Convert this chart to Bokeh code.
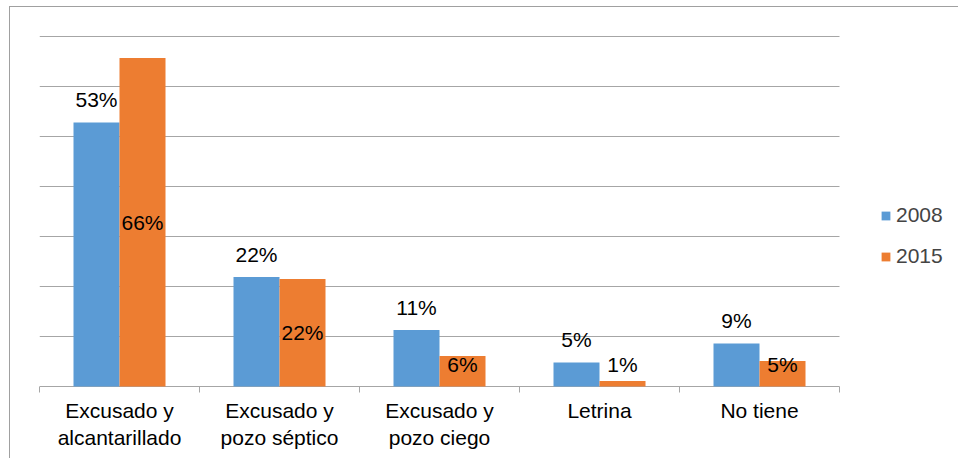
from bokeh.plotting import figure
from bokeh.models import (ColumnDataSource, FixedTicker, Legend, LegendItem, Range1d)
from bokeh.core.properties import value
from bokeh.embed import file_html
from bokeh.resources import INLINE

categories = ["Excusado y\nalcantarillado", "Excusado y\npozo séptico",
              "Excusado y\npozo ciego", "Letrina", "No tiene"]
series_names = ["2008", "2015"]
vals_2008 = [52.8, 21.9, 11.3, 4.8, 8.6]
vals_2015 = [65.7, 21.5, 6.1, 1.1, 5.1]
labels_2008 = ["53%", "22%", "11%", "5%", "9%"]
labels_2015 = ["66%", "22%", "6%", "1%", "5%"]
grid_ticks = [10, 20, 30, 40, 50, 60, 70]

BLUE = "#5B9BD5"
ORANGE = "#ED7D31"
GRAY = "#A6A6A6"
FONT = "Liberation Sans"
FS = "21px"

n = len(categories)
centers = [i + 0.5 for i in range(n)]
off = 0.14375
bw = 0.2875
px_per_unit = 5.0

src08 = ColumnDataSource(dict(x=[c - off for c in centers], top=vals_2008,
                              ly=[v + 23 / px_per_unit for v in vals_2008], lab=labels_2008))
src15 = ColumnDataSource(dict(x=[c + off for c in centers], top=vals_2015,
                              ly=[max(v / 2, 4.5) for v in vals_2015], lab=labels_2015))

p = figure(width=949, height=452, output_backend="svg", toolbar_location=None,
           x_range=Range1d(0, 5.75), y_range=Range1d(-0.2, 70.4),
           min_border_left=29, min_border_top=27, min_border_right=0, min_border_bottom=72,
           styles={"margin-left": "9px", "margin-top": "6px",
                   "border-left": "1px solid #A0A0A0", "border-top": "1px solid #A0A0A0"})
p.outline_line_color = None
p.background_fill_color = "white"
p.border_fill_color = "white"

p.yaxis.visible = False
p.ygrid.grid_line_color = None
p.xgrid.grid_line_color = None

# horizontal gridlines across the category area only
p.segment(x0=[0] * len(grid_ticks), x1=[n] * len(grid_ticks), y0=grid_ticks, y1=grid_ticks,
          line_color=GRAY, line_width=1)
# category axis baseline
p.segment(x0=[0], x1=[n], y0=[0], y1=[0], line_color=GRAY, line_width=1)

ax = p.xaxis[0]
ax.ticker = FixedTicker(ticks=centers, minor_ticks=list(range(n + 1)))
ax.major_label_overrides = {c: lab for c, lab in zip(centers, categories)}
ax.major_tick_line_color = None
ax.major_tick_out = 0
ax.major_tick_in = 0
ax.minor_tick_line_color = GRAY
ax.minor_tick_out = 5
ax.minor_tick_in = 1
ax.axis_line_color = None
ax.major_label_text_font = FONT
ax.major_label_text_font_size = FS
ax.major_label_text_color = "black"
ax.major_label_standoff = 6

r08 = p.vbar(x="x", top="top", width=bw, source=src08, fill_color=BLUE, line_color=None)
r15 = p.vbar(x="x", top="top", width=bw, source=src15, fill_color=ORANGE, line_color=None)

p.text(x="x", y="ly", text="lab", source=src08, text_font=value(FONT), text_font_size=FS,
       text_align="center", text_baseline="middle", text_color="black")
p.text(x="x", y="ly", text="lab", source=src15, text_font=value(FONT), text_font_size=FS,
       text_align="center", text_baseline="middle", text_color="black")

legend = Legend(items=[LegendItem(label=series_names[0], renderers=[r08]),
                       LegendItem(label=series_names[1], renderers=[r15])],
                location=(841, 119))
legend.glyph_width = 11
legend.glyph_height = 11
legend.label_text_font = FONT
legend.label_text_font_size = FS
legend.label_standoff = 5
legend.label_height = 20
legend.spacing = 17
legend.padding = 0
legend.margin = 0
legend.border_line_color = None
legend.background_fill_alpha = 0
p.add_layout(legend, "center")

open("out.html", "w").write(file_html(p, INLINE))
